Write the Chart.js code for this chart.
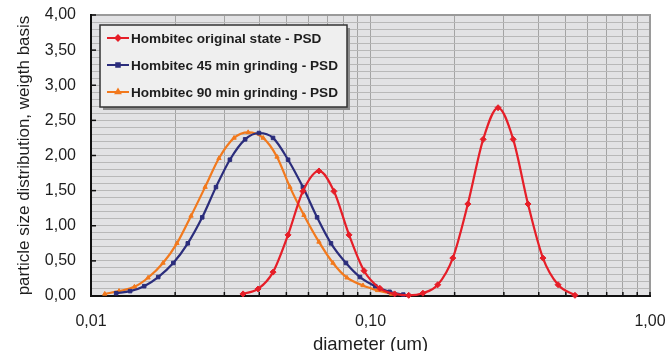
<!DOCTYPE html>
<html>
<head>
<meta charset="utf-8">
<script src="https://cdn.jsdelivr.net/npm/chart.js@4.4.1/dist/chart.umd.min.js"></script>
<style>
  html, body { margin: 0; padding: 0; background: #fff; }
  #wrap { width: 667px; height: 351px; }
</style>
</head>
<body>
<div id="wrap"><canvas id="psdChart"></canvas></div>
<script>
// series names, as in the legend
const seriesNames = [
    'Hombitec original state - PSD',
    'Hombitec 45 min grinding - PSD',
    'Hombitec 90 min grinding - PSD'
];

// diameters (um) and distribution values
const originalDiam = [0.0350, 0.0396, 0.0448, 0.0507, 0.0573, 0.0654, 0.0740, 0.0838, 0.0948, 0.108, 0.122, 0.137, 0.154, 0.174, 0.197, 0.223, 0.253, 0.286, 0.324, 0.366, 0.414, 0.469, 0.539];
const originalPsd = [0.03, 0.10, 0.34, 0.87, 1.49, 1.78, 1.49, 0.87, 0.36, 0.11, 0.03, 0.01, 0.04, 0.16, 0.54, 1.31, 2.23, 2.68, 2.23, 1.31, 0.54, 0.16, 0.01];

const grind45Diam = [0.0123, 0.0138, 0.0155, 0.0174, 0.0197, 0.0222, 0.0250, 0.0280, 0.0314, 0.0356, 0.0399, 0.0448, 0.0507, 0.0573, 0.0644, 0.0722, 0.0817, 0.0917, 0.104, 0.117, 0.131];
const grind45Psd = [0.04, 0.07, 0.14, 0.27, 0.47, 0.75, 1.12, 1.55, 1.94, 2.23, 2.32, 2.25, 1.94, 1.55, 1.12, 0.75, 0.47, 0.27, 0.14, 0.06, 0.02];

const grind90Diam = [0.0112, 0.0126, 0.0143, 0.0160, 0.0181, 0.0203, 0.0228, 0.0256, 0.0287, 0.0325, 0.0365, 0.0413, 0.0463, 0.0515, 0.0578, 0.0654, 0.0734, 0.0824, 0.0940, 0.106, 0.119];
const grind90Psd = [0.03, 0.07, 0.13, 0.26, 0.47, 0.75, 1.14, 1.55, 1.96, 2.25, 2.33, 2.25, 1.98, 1.55, 1.15, 0.77, 0.47, 0.26, 0.15, 0.08, 0.03];

// tick labels
const xLabelValues = [0.01, 0.1, 1];
const xLabelText = ['0,01', '0,10', '1,00'];
const yLabelText = ['0,00', '0,50', '1,00', '1,50', '2,00', '2,50', '3,00', '3,50', '4,00'];

const colors = ['#e61e28', '#2b2d7c', '#f2791d'];
const markers = ['rectRot', 'rect', 'triangle'];

// log grid lines 1..9 per decade
const xGridValues = [];
[0.01, 0.1].forEach(d => {
    for (let k = 1; k <= 9; k++) xGridValues.push(+(k * d).toFixed(3));
});
xGridValues.push(1);

function toPoints(xs, ys) {
    return xs.map((x, i) => ({ x: x, y: ys[i] }));
}

const allDiam = [originalDiam, grind45Diam, grind90Diam];
const allPsd = [originalPsd, grind45Psd, grind90Psd];

const datasets = seriesNames.map((name, i) => ({
    label: name,
    data: toPoints(allDiam[i], allPsd[i]),
    borderColor: colors[i],
    backgroundColor: colors[i],
    borderWidth: 2.2,
    pointStyle: markers[i],
    pointRadius: i === 0 ? 3 : 2.5,
    pointBorderWidth: 1,
    cubicInterpolationMode: 'monotone',
    clip: false
}));

// gray plot background
const plotBackground = {
    id: 'plotBackground',
    beforeDraw(chart) {
        const a = chart.chartArea;
        const ctx = chart.ctx;
        ctx.save();
        ctx.fillStyle = '#e2e2e4';
        ctx.fillRect(a.left, a.top, a.right - a.left, a.bottom - a.top);
        ctx.restore();
    }
};

// frame and small inside ticks
const plotFrame = {
    id: 'plotFrame',
    beforeDatasetsDraw(chart) {
        const a = chart.chartArea;
        const ctx = chart.ctx;
        ctx.save();
        ctx.lineWidth = 2;
        ctx.strokeStyle = '#9a9a9a';
        ctx.beginPath();
        ctx.moveTo(a.left, a.top);
        ctx.lineTo(a.right, a.top);
        ctx.lineTo(a.right, a.bottom);
        ctx.stroke();
        ctx.strokeStyle = '#111';
        ctx.beginPath();
        ctx.moveTo(a.left, a.top - 1);
        ctx.lineTo(a.left, a.bottom);
        ctx.lineTo(a.right + 1, a.bottom);
        ctx.stroke();

        ctx.lineWidth = 1.5;
        const ys = chart.scales.y;
        yLabelText.forEach((t, i) => {
            const py = ys.getPixelForValue(i * 0.5);
            ctx.beginPath();
            ctx.moveTo(a.left, py);
            ctx.lineTo(a.left + 5, py);
            ctx.stroke();
        });
        const xs = chart.scales.x;
        xGridValues.forEach(v => {
            const px = xs.getPixelForValue(v);
            ctx.beginPath();
            ctx.moveTo(px, a.bottom);
            ctx.lineTo(px, a.bottom - 4);
            ctx.stroke();
        });
        ctx.restore();
    }
};

// boxed legend in the upper left of the plot
const boxLegend = {
    id: 'boxLegend',
    afterDraw(chart) {
        const ctx = chart.ctx;
        const bx = 100, by = 25, bw = 247, bh = 82;
        ctx.save();
        ctx.fillStyle = '#8c8c8c';
        ctx.fillRect(bx + 3, by + 3, bw, bh);
        ctx.fillStyle = '#efefef';
        ctx.fillRect(bx, by, bw, bh);
        ctx.lineWidth = 1.5;
        ctx.strokeStyle = '#333';
        ctx.strokeRect(bx, by, bw, bh);

        ctx.font = 'bold 13.6px "Liberation Sans", Arial, sans-serif';
        ctx.textBaseline = 'middle';
        ctx.textAlign = 'left';
        seriesNames.forEach((name, i) => {
            const ry = by + 13 + i * 27;
            ctx.strokeStyle = colors[i];
            ctx.lineWidth = 2;
            ctx.beginPath();
            ctx.moveTo(bx + 7, ry);
            ctx.lineTo(bx + 29, ry);
            ctx.stroke();
            ctx.fillStyle = colors[i];
            Chart.helpers.drawPoint(ctx, { pointStyle: markers[i], radius: 2.5, borderWidth: 1 }, bx + 18, ry);
            ctx.fillStyle = '#1e1e1e';
            ctx.fillText(name, bx + 31, ry + 1);
        });
        ctx.restore();
    }
};

const fontFamily = '"Liberation Sans", Arial, sans-serif';

function noPadding(scale) {
    scale.paddingLeft = 0;
    scale.paddingRight = 0;
    scale.paddingTop = 0;
    scale.paddingBottom = 0;
}

new Chart(document.getElementById('psdChart'), {
    type: 'line',
    data: { datasets: datasets },
    options: {
        responsive: true,
        maintainAspectRatio: false,
        animation: false,
        devicePixelRatio: 1,
        layout: { padding: { top: 15, right: 17, left: 0, bottom: 0 } },
        plugins: {
            legend: { display: false },
            tooltip: { enabled: false }
        },
        scales: {
            x: {
                type: 'logarithmic',
                min: 0.01,
                max: 1,
                afterBuildTicks: scale => {
                    scale.ticks = xGridValues.map(v => ({ value: v }));
                },
                afterFit: scale => {
                    scale.height = 55;
                    noPadding(scale);
                },
                ticks: {
                    autoSkip: false,
                    maxRotation: 0,
                    padding: 16,
                    color: '#1e1e1e',
                    font: { family: fontFamily, size: 16 },
                    callback: value => {
                        const i = xLabelValues.findIndex(v => Math.abs(v - value) < 1e-9);
                        return i >= 0 ? xLabelText[i] : '';
                    }
                },
                grid: { color: '#a4a4a4', lineWidth: 1, drawTicks: false },
                border: { display: false },
                title: {
                    display: true,
                    text: 'diameter (um)',
                    color: '#1e1e1e',
                    font: { family: fontFamily, size: 18.5 },
                    padding: { top: 0, bottom: -5 }
                }
            },
            y: {
                type: 'linear',
                min: 0,
                max: 4,
                afterFit: scale => {
                    scale.width = 91;
                    noPadding(scale);
                },
                ticks: {
                    stepSize: 0.1,
                    autoSkip: false,
                    padding: 15,
                    color: '#1e1e1e',
                    font: { family: fontFamily, size: 16 },
                    callback: value => {
                        const k = value * 2;
                        return Math.abs(k - Math.round(k)) < 1e-6 ? yLabelText[Math.round(k)] : '';
                    }
                },
                grid: { color: '#b8b8b8', lineWidth: 1, drawTicks: false },
                border: { display: false },
                title: {
                    display: true,
                    text: 'particle size distribution, weigth basis',
                    color: '#1e1e1e',
                    font: { family: fontFamily, size: 17 },
                    padding: { top: 14, bottom: 0 }
                }
            }
        }
    },
    plugins: [plotBackground, plotFrame, boxLegend]
});
</script>
</body>
</html>
